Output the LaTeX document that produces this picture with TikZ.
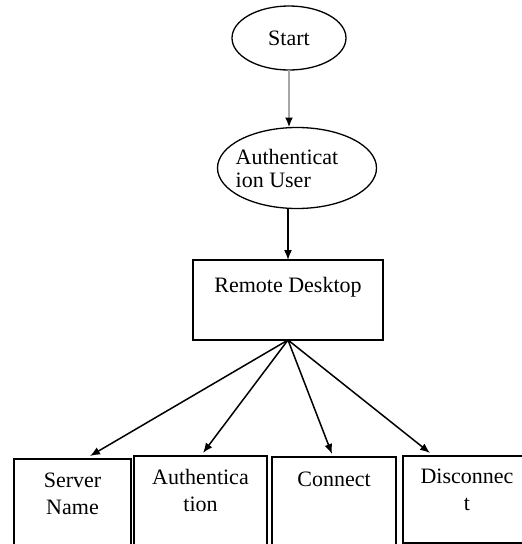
\documentclass[tikz,border=0pt]{standalone}
\usepackage{fontspec}
\setmainfont{Liberation Serif}
\usetikzlibrary{shapes.geometric, arrows.meta}
\tikzset{
  oval/.style={ellipse, draw, line width=1.3pt, inner sep=0pt, outer sep=0pt},
  blk/.style={rectangle, draw, line width=1.4pt, inner sep=0pt, outer sep=0pt, anchor=north},
  lbl/.style={inner sep=0pt, align=center, font=\fontsize{22}{27}\selectfont},
  flow/.style={-{Latex[length=10pt, width=8pt]}, line width=1.5pt},
}

\begin{document}
\begin{tikzpicture}[x=1pt, y=-1pt, font=\fontsize{22}{23}\selectfont]
        \useasboundingbox (0,0) rectangle (522,544);
        \clip (0,0) rectangle (522,544);
        % top of the chart
        \node[oval, minimum width=114pt, minimum height=64pt] (start) at (289,38) {Start};
        \node[oval, minimum width=159pt, minimum height=81pt,
              label={[lbl, align=left, xshift=-10pt, font=\fontsize{22}{23}\selectfont]center:Authenticat\\ion User}] (auth) at (297,168) {};
        \node[blk, minimum width=190pt, minimum height=80pt,
              label={[lbl, anchor=north, yshift=-17pt]north:Remote Desktop}] (rd) at (288,260) {};
        % bottom row
        \node[blk, minimum width=117pt, minimum height=101pt,
              label={[lbl, anchor=north, yshift=-13.5pt]north:Server\\Name}] (srv) at (72.5,459) {};
        \node[blk, minimum width=133pt, minimum height=104pt,
              label={[lbl, anchor=north, yshift=-13pt]north:Authentica\\tion}] (athn) at (200.5,456) {};
        \node[blk, minimum width=124pt, minimum height=103pt,
              label={[lbl, anchor=north, yshift=-15pt]north:Connect}] (conn) at (334,457) {};
        \node[blk, minimum width=128pt, minimum height=87pt,
              label={[lbl, anchor=north, yshift=-13pt]north:Disconnec\\t}] (disc) at (467,456) {};
        \draw[flow, gray!70, line width=2.2pt, -{Latex[length=10pt, width=8pt, black]}] (start.south) -- (start.south |- auth.north);
        \draw[flow] (auth.south -| rd.north) -- (rd.north);
        \foreach \b/\dx in {srv/17.5, athn/2.5, conn/-2, disc/-37}{
        \draw[flow] (rd.south) -- ([xshift=\dx pt, yshift=3pt]\b.north);
        }
      \end{tikzpicture}
\end{document}
